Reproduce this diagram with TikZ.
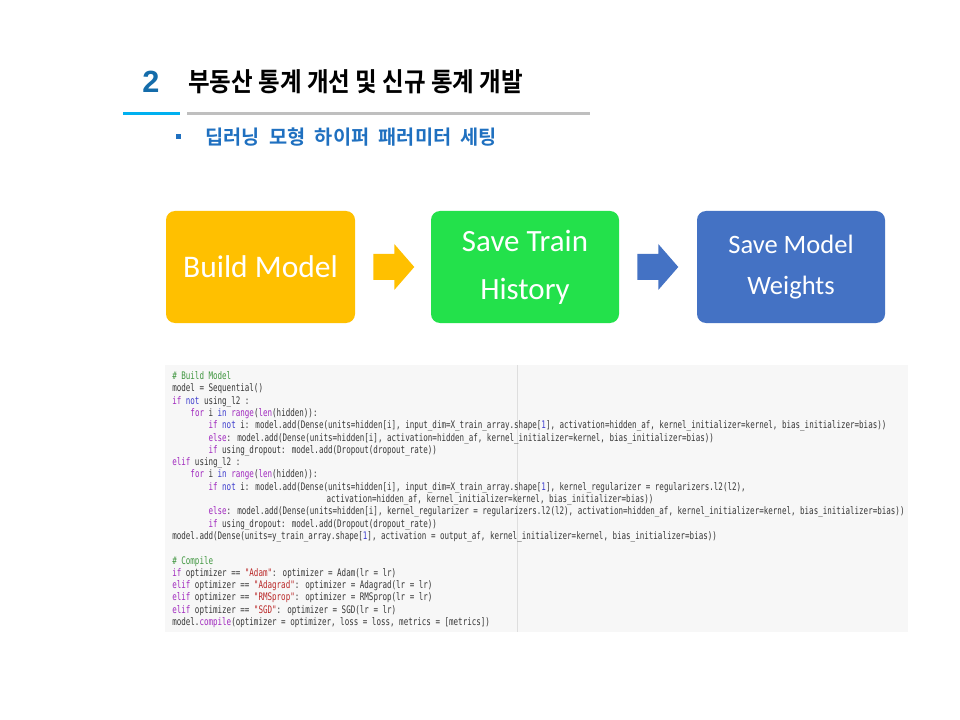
\documentclass[tikz,border=0pt]{standalone}
\usepackage{fontspec}
\usetikzlibrary{calc}
\newfontfamily\krtitle{Noto Sans CJK KR Bold}[FakeStretch=0.9]
\newfontfamily\krsub{Noto Sans CJK KR Bold}[WordSpace=2.1]
\newfontfamily\numfont{Liberation Sans}
\newfontfamily\boxfont{Carlito}
\newfontfamily\codefont{DejaVu Sans Mono}[FakeStretch=0.725]
\definecolor{numblue}{RGB}{20,108,170}
\definecolor{lineblue}{RGB}{0,176,240}
\definecolor{linegray}{RGB}{191,191,191}
\definecolor{subblue}{RGB}{31,112,192}
\definecolor{boxorange}{RGB}{255,192,0}
\definecolor{boxgreen}{RGB}{35,225,75}
\definecolor{boxblue}{RGB}{68,114,196}
\definecolor{panelgray}{RGB}{247,247,247}
\definecolor{codetext}{RGB}{55,55,55}
\definecolor{cmgreen}{RGB}{64,150,64}
\definecolor{kwpurple}{RGB}{160,40,190}
\definecolor{opblue}{RGB}{60,60,205}
\definecolor{strred}{RGB}{186,40,40}
\newcommand\pxu{0.75pt}
\newcommand\kw[1]{\textcolor{kwpurple}{#1}}
\newcommand\op[1]{\textcolor{opblue}{#1}}
\newcommand\cm[1]{\textcolor{cmgreen}{#1}}
\newcommand\st[1]{\textcolor{strred}{#1}}
\newcommand\nm[1]{\textcolor{opblue}{#1}}
\tikzset{
  stepbox/.style={rounded corners=6.75pt, minimum width={188*\pxu}, minimum height={112*\pxu},
    text=white, align=center, inner sep=0pt},
  codeline/.style={anchor=base west, inner sep=0pt, text=codetext,
    font=\codefont\fontsize{7.8}{8}\selectfont},
}
\begin{document}
\begin{tikzpicture}[x=0.75pt, y=-0.75pt]
    \useasboundingbox (0,0) rectangle (960,720);
    \fill[white] (0,0) rectangle (960,720);
    % heading
    \node[text=numblue, font=\numfont\bfseries\fontsize{23}{26}\selectfont] (num) at (151,82) {2};
    \node[anchor=west, inner sep=0pt, font=\krtitle\fontsize{19.6}{22}\selectfont] (title) at (188,82) {부동산 통계 개선 및 신규 통계 개발};
    \draw[lineblue, line width=2.25pt] (123,114) -- (180,114);
    \draw[linegray, line width=2.25pt] (187,114) -- (590,114);
    \fill[subblue] (175.5,134.5) rectangle (180.5,139.5);
    \node[anchor=west, inner sep=0pt, text=subblue, font=\krsub\fontsize{14.8}{17}\selectfont] (sub) at (205,137) {딥러닝 모형 하이퍼 패러미터 세팅};
    % flow boxes
    \node[stepbox, fill=boxorange, minimum width={189*\pxu}, font=\boxfont\fontsize{23.6}{28}\selectfont] (build) at (260.5,267) {Build Model};
    \node[stepbox, fill=boxgreen, font=\boxfont\fontsize{23.2}{36}\selectfont] (hist) at (525,267) {Save Train\\History};
    \node[stepbox, fill=boxblue, font=\boxfont\fontsize{19.9}{30.75}\selectfont] (weights) at (791,267) {Save Model\\Weights};
    \fill[boxorange] ($(build.east)+(18,-13)$) -- ++(21,0) -- ++(0,-10) -- ++(20,23) -- ++(-20,23) -- ++(0,-10) -- ++(-21,0) -- cycle;
    \fill[boxblue] ($(hist.east)+(18,-13)$) -- ++(21,0) -- ++(0,-10) -- ++(20,23) -- ++(-20,23) -- ++(0,-10) -- ++(-21,0) -- cycle;
    % code panel
    \fill[panelgray] (165,365) rectangle (908,632);
    \draw[black!13, line width=0.75pt] (517,365) -- (517,632);
    \node[codeline] (c1) at (172,379.5) {\cm{\# Build Model}};
    \node[codeline] (c2) at (172,391.8) {model = Sequential()};
    \node[codeline] (c3) at (172,404.1) {\kw{if} \op{not} using\_l2 :};
    \node[codeline] (c4) at (190.2,416.4) {\kw{for} i \op{in} \kw{range}(\kw{len}(hidden)):};
    \node[codeline] (c5) at (208.3,428.7) {\kw{if} \op{not} i: model.add(Dense(units=hidden[i], input\_dim=X\_train\_array.shape[\nm{1}], activation=hidden\_af, kernel\_initializer=kernel, bias\_initializer=bias))};
    \node[codeline] (c6) at (208.3,441.0) {\kw{else}: model.add(Dense(units=hidden[i], activation=hidden\_af, kernel\_initializer=kernel, bias\_initializer=bias))};
    \node[codeline] (c7) at (208.3,453.3) {\kw{if} using\_dropout: model.add(Dropout(dropout\_rate))};
    \node[codeline] (c8) at (172,465.6) {\kw{elif} using\_l2 :};
    \node[codeline] (c9) at (190.2,477.9) {\kw{for} i \op{in} \kw{range}(\kw{len}(hidden)):};
    \node[codeline] (c10) at (208.3,490.2) {\kw{if} \op{not} i: model.add(Dense(units=hidden[i], input\_dim=X\_train\_array.shape[\nm{1}], kernel\_regularizer = regularizers.l2(l2),};
    \node[codeline] (c11) at (326.4,502.5) {activation=hidden\_af, kernel\_initializer=kernel, bias\_initializer=bias))};
    \node[codeline] (c12) at (208.3,514.8) {\kw{else}: model.add(Dense(units=hidden[i], kernel\_regularizer = regularizers.l2(l2), activation=hidden\_af, kernel\_initializer=kernel, bias\_initializer=bias))};
    \node[codeline] (c13) at (208.3,527.1) {\kw{if} using\_dropout: model.add(Dropout(dropout\_rate))};
    \node[codeline] (c14) at (172,539.4) {model.add(Dense(units=y\_train\_array.shape[\nm{1}], activation = output\_af, kernel\_initializer=kernel, bias\_initializer=bias))};
    \node[codeline] (c16) at (172,564.0) {\cm{\# Compile}};
    \node[codeline] (c17) at (172,576.3) {\kw{if} optimizer == \st{"Adam"}: optimizer = Adam(lr = lr)};
    \node[codeline] (c18) at (172,588.6) {\kw{elif} optimizer == \st{"Adagrad"}: optimizer = Adagrad(lr = lr)};
    \node[codeline] (c19) at (172,600.9) {\kw{elif} optimizer == \st{"RMSprop"}: optimizer = RMSprop(lr = lr)};
    \node[codeline] (c20) at (172,613.2) {\kw{elif} optimizer == \st{"SGD"}: optimizer = SGD(lr = lr)};
    \node[codeline] (c21) at (172,625.5) {model.\kw{compile}(optimizer = optimizer, loss = loss, metrics = [metrics])};
\end{tikzpicture}
\end{document}
